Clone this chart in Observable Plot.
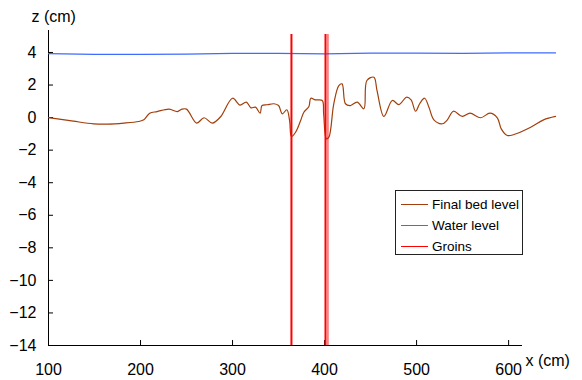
<!DOCTYPE html>
<html>
<head>
<meta charset="utf-8">
<script src="https://cdn.jsdelivr.net/npm/d3@7"></script>
<script src="https://cdn.jsdelivr.net/npm/@observablehq/plot@0.6"></script>
<style>
  body { margin: 0; background: #fff; }
  #chart { position: relative; width: 582px; height: 380px; font-family: "Liberation Sans", Arial, sans-serif; }
  #chart svg { display: block; }
  .legend { position: absolute; left: 395px; top: 190px; width: 128px; height: 65px; border: 1px solid #222;
            background: #fff; box-sizing: border-box; font-size: 13.5px; color: #000; }
  .legend .row { position: absolute; left: 0; top: 0; height: 16px; display: flex; align-items: center; }
  .legend .sw { display: block; width: 27px; height: 1px; margin-left: 5px; margin-right: 4px; }
</style>
</head>
<body>
<div id="chart"></div>
<script>
// Final bed level along the flume (x in cm, z in cm)
const bedX = [100, 127, 149, 164, 182, 198, 203.6, 210, 218, 231, 240, 245, 250, 261, 269, 278, 287,
  300, 308, 315, 320, 325, 330, 332, 337.7, 345, 350, 354, 359, 362, 364, 368.5, 374, 377.5, 383, 385,
  390, 397.5, 399, 402, 404.7, 410, 415.5, 419, 422.7, 428, 435.5, 442.7, 446, 453.6, 457, 464.5, 473.6,
  480.8, 489, 494, 498.9, 503.6, 508.7, 513.4, 518.8, 528, 533.4, 540, 549.7, 558, 569.6, 579.7, 587.7,
  592, 598.6, 605.8, 624, 638, 651];
const bedZ = [0.0, -0.22, -0.38, -0.4, -0.34, -0.24, -0.14, 0.27, 0.37, 0.52, 0.37, 0.52, 0.52, -0.34, -0.01, -0.34, 0.05,
  1.19, 0.77, 0.95, 0.6, 0.64, 0.27, 0.74, 0.79, 0.85, 0.74, 0.23, 0.48, -0.18, -1.16, -0.9, -0.18, 0.33, 0.68, 1.19,
  1.09, 1.05, 0.23, -1.3, -1.2, 0.85, 1.97, 2.07, 0.85, 0.74, 0.95, 0.54, 2.28, 2.48, 1.66, 0.07, 1.05,
  0.8, 1.25, 1.09, 0.39, 0.88, 1.19, 0.64, -0.14, -0.38, -0.14, 0.39, 0.07, 0.27, -0.01, 0.27, -0.01,
  -0.69, -1.1, -1.04, -0.59, -0.14, 0.07];

// Water surface level
const waterX = [100, 150, 200, 250, 300, 350, 400, 450, 500, 550, 600, 651];
const waterZ = [3.93, 3.88, 3.88, 3.9, 3.95, 3.94, 3.92, 3.96, 3.96, 3.95, 3.97, 3.97];

// Groin positions (x) and their vertical extent (z)
const groinX = [364, 401];
const groinEdgeX = [403.5];
const groinZ = [-14, 5.1];

// Axis ticks
const xTicks = [100, 200, 300, 400, 500, 600];
const yTicks = [4, 2, 0, -2, -4, -6, -8, -10, -12, -14];

const bedColor = "#a13f0c";
const waterColor = "#3f6bff";
const groinColor = "#ff0000";

const bed = bedX.map((x, i) => ({x, z: bedZ[i]}));
const water = waterX.map((x, i) => ({x, z: waterZ[i]}));

const chart = Plot.plot({
  width: 582,
  height: 380,
  marginLeft: 48,
  marginRight: 61,
  marginTop: 30,
  marginBottom: 35,
  style: {fontFamily: "'Liberation Sans', Arial, sans-serif", fontSize: "16px", color: "#000", background: "#fff"},
  x: {domain: [100, 614]},
  y: {domain: [-14, 5.35]},
  marks: [
    Plot.axisX({ticks: xTicks, tickSize: -5, tickPadding: 23, tickFormat: d => String(d), label: null}),
    Plot.axisY({ticks: yTicks, tickSize: -5, tickPadding: 17, label: null}),
    Plot.frame({anchor: "left", stroke: "#000"}),
    Plot.frame({anchor: "bottom", stroke: "#000"}),
    Plot.line(water, {x: "x", y: "z", stroke: waterColor, strokeWidth: 1.2}),
    Plot.line(bed, {x: "x", y: "z", stroke: bedColor, strokeWidth: 1.2, curve: "catmull-rom"}),
    Plot.ruleX(groinX, {y1: groinZ[0], y2: groinZ[1], stroke: groinColor, strokeWidth: 2}),
    Plot.ruleX(groinEdgeX, {y1: groinZ[0], y2: groinZ[1], stroke: groinColor, strokeOpacity: 0.5, strokeWidth: 2}),
    Plot.text(["z (cm)"], {frameAnchor: "top-left", textAnchor: "start", lineAnchor: "middle", dx: -17, dy: -14, fontSize: 16}),
    Plot.text(["x (cm)"], {frameAnchor: "bottom-right", textAnchor: "start", lineAnchor: "middle", dx: 4, dy: 15, fontSize: 16})
  ]
});

const root = document.getElementById("chart");
root.appendChild(chart);

// Legend box inside the plot area
const legendItems = [
  {label: "Final bed level", color: bedColor},
  {label: "Water level", color: waterColor},
  {label: "Groins", color: groinColor}
];
const legend = document.createElement("div");
legend.className = "legend";
legendItems.forEach((item, i) => {
  const row = document.createElement("div");
  row.className = "row";
  row.style.top = (5 + i * 21) + "px";
  const sw = document.createElement("span");
  sw.className = "sw";
  sw.style.backgroundColor = item.color;
  const tx = document.createElement("span");
  tx.textContent = item.label;
  row.appendChild(sw);
  row.appendChild(tx);
  legend.appendChild(row);
});
root.appendChild(legend);
</script>
</body>
</html>
